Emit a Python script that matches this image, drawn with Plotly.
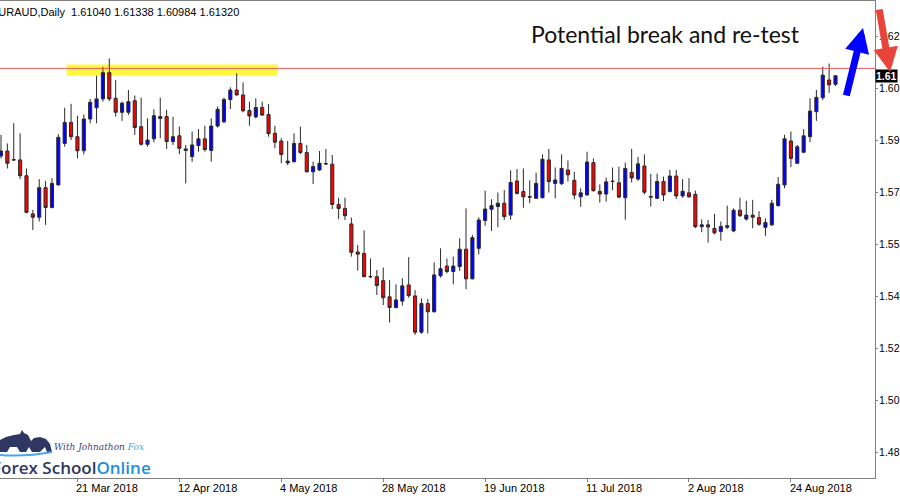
import numpy as np
import pandas as pd
import plotly.graph_objects as go

# ---------------- data (EURAUD daily) ----------------
start_date = "2018-03-05"
opens = [1.5869, 1.5885, 1.5857, 1.5856, 1.5804, 1.5679, 1.5668, 1.5765, 1.5700, 1.5774,
         1.5910, 1.5979, 1.5932, 1.5886, 1.5990, 1.6027, 1.6056, 1.6142, 1.6058, 1.6012,
         1.6012, 1.6050, 1.5965, 1.5907, 1.5925, 1.5992, 1.5998, 1.5916, 1.5935, 1.5892,
         1.5867, 1.5903, 1.5925, 1.5887, 1.5967, 1.5981, 1.6054, 1.6085, 1.6069, 1.6018,
         1.5997, 1.6028, 1.6005, 1.5943, 1.5918, 1.5846, 1.5850, 1.5910, 1.5880, 1.5817,
         1.5823, 1.5844, 1.5842, 1.5710, 1.5697, 1.5646, 1.5554, 1.5549, 1.5474, 1.5473,
         1.5460, 1.5407, 1.5372, 1.5393, 1.5446, 1.5410, 1.5291, 1.5385, 1.5358, 1.5476,
         1.5508, 1.5490, 1.5506, 1.5563, 1.5466, 1.5566, 1.5657, 1.5694, 1.5703, 1.5714,
         1.5675, 1.5787, 1.5752, 1.5736, 1.5730, 1.5732, 1.5856, 1.5779, 1.5778, 1.5823,
         1.5789, 1.5735, 1.5741, 1.5847, 1.5753, 1.5744, 1.5785, 1.5781, 1.5732, 1.5815,
         1.5793, 1.5836, 1.5736, 1.5730, 1.5785, 1.5752, 1.5803, 1.5738, 1.5748, 1.5743,
         1.5637, 1.5643, 1.5631, 1.5621, 1.5635, 1.5623, 1.5691, 1.5662, 1.5675, 1.5667,
         1.5635, 1.5643, 1.5706, 1.5774, 1.5918, 1.5845, 1.5881, 1.5932, 1.6014, 1.6060,
         1.6118, 1.61040]
highs = [1.5938, 1.5910, 1.5976, 1.5943, 1.5828, 1.5692, 1.5793, 1.5787, 1.5796, 1.5940,
         1.6027, 1.6040, 1.6001, 1.6005, 1.6056, 1.6132, 1.6161, 1.6189, 1.6118, 1.6047,
         1.6085, 1.6067, 1.6060, 1.5992, 1.6022, 1.6060, 1.6020, 1.5997, 1.5965, 1.5905,
         1.5949, 1.5957, 1.5968, 1.5992, 1.6031, 1.6060, 1.6094, 1.6140, 1.6110, 1.6047,
         1.6058, 1.6047, 1.6039, 1.5968, 1.5927, 1.5918, 1.5943, 1.5965, 1.5905, 1.5850,
         1.5885, 1.5892, 1.5872, 1.5732, 1.5732, 1.5667, 1.5577, 1.5625, 1.5533, 1.5495,
         1.5503, 1.5462, 1.5448, 1.5468, 1.5537, 1.5429, 1.5402, 1.5400, 1.5520, 1.5566,
         1.5533, 1.5539, 1.5599, 1.5697, 1.5610, 1.5668, 1.5755, 1.5727, 1.5749, 1.5757,
         1.5822, 1.5826, 1.5828, 1.5789, 1.5814, 1.5874, 1.5892, 1.5831, 1.5874, 1.5854,
         1.5817, 1.5763, 1.5883, 1.5861, 1.5776, 1.5798, 1.5831, 1.5834, 1.5847, 1.5892,
         1.5866, 1.5874, 1.5810, 1.5811, 1.5801, 1.5823, 1.5823, 1.5793, 1.5796, 1.5755,
         1.5661, 1.5659, 1.5679, 1.5654, 1.5706, 1.5697, 1.5732, 1.5722, 1.5725, 1.5688,
         1.5664, 1.5725, 1.5800, 1.5938, 1.5949, 1.5905, 1.5957, 1.6058, 1.6085, 1.6162,
         1.6172, 1.61338]
lows = [1.5861, 1.5828, 1.5852, 1.5793, 1.5681, 1.5626, 1.5654, 1.5643, 1.5697, 1.5772,
        1.5899, 1.5921, 1.5861, 1.5874, 1.5976, 1.5976, 1.6047, 1.6049, 1.5998, 1.5984,
        1.6003, 1.5938, 1.5903, 1.5899, 1.5914, 1.5927, 1.5892, 1.5905, 1.5875, 1.5779,
        1.5850, 1.5883, 1.5883, 1.5850, 1.5962, 1.5976, 1.6023, 1.6067, 1.6012, 1.5968,
        1.5992, 1.6001, 1.5932, 1.5894, 1.5845, 1.5839, 1.5848, 1.5875, 1.5815, 1.5777,
        1.5820, 1.5839, 1.5695, 1.5662, 1.5659, 1.5539, 1.5493, 1.5471, 1.5468, 1.5413,
        1.5380, 1.5323, 1.5369, 1.5378, 1.5404, 1.5282, 1.5286, 1.5287, 1.5356, 1.5470,
        1.5484, 1.5448, 1.5492, 1.5432, 1.5464, 1.5546, 1.5640, 1.5623, 1.5635, 1.5659,
        1.5660, 1.5743, 1.5699, 1.5714, 1.5728, 1.5730, 1.5749, 1.5730, 1.5774, 1.5785,
        1.5727, 1.5702, 1.5739, 1.5752, 1.5716, 1.5719, 1.5757, 1.5730, 1.5660, 1.5782,
        1.5787, 1.5743, 1.5703, 1.5728, 1.5721, 1.5750, 1.5728, 1.5732, 1.5732, 1.5632,
        1.5619, 1.5585, 1.5612, 1.5591, 1.5629, 1.5619, 1.5669, 1.5657, 1.5632, 1.5640,
        1.5607, 1.5639, 1.5703, 1.5763, 1.5832, 1.5843, 1.5879, 1.5914, 1.5984, 1.6052,
        1.6076, 1.60984]
closes = [1.5885, 1.5845, 1.5856, 1.5804, 1.5684, 1.5668, 1.5765, 1.5700, 1.5779, 1.5930,
          1.5979, 1.5932, 1.5886, 1.5990, 1.6045, 1.6056, 1.6142, 1.6056, 1.6012, 1.6042,
          1.6047, 1.5962, 1.5907, 1.5921, 1.6001, 1.5998, 1.5916, 1.5932, 1.5894, 1.5887,
          1.5905, 1.5925, 1.5890, 1.5967, 1.6022, 1.6054, 1.6085, 1.6069, 1.6017, 1.6000,
          1.6028, 1.6003, 1.5942, 1.5914, 1.5874, 1.5852, 1.5910, 1.5880, 1.5817, 1.5834,
          1.5845, 1.5843, 1.5710, 1.5697, 1.5673, 1.5553, 1.5547, 1.5473, 1.5473, 1.5444,
          1.5404, 1.5372, 1.5397, 1.5443, 1.5411, 1.5291, 1.5385, 1.5358, 1.5479, 1.5499,
          1.5490, 1.5508, 1.5563, 1.5466, 1.5601, 1.5659, 1.5695, 1.5706, 1.5714, 1.5670,
          1.5782, 1.5746, 1.5735, 1.5734, 1.5779, 1.5858, 1.5785, 1.5790, 1.5828, 1.5807,
          1.5741, 1.5748, 1.5849, 1.5755, 1.5744, 1.5784, 1.5786, 1.5734, 1.5828, 1.5797,
          1.5843, 1.5750, 1.5734, 1.5785, 1.5741, 1.5803, 1.5738, 1.5753, 1.5735, 1.5637,
          1.5643, 1.5636, 1.5617, 1.5638, 1.5640, 1.5691, 1.5673, 1.5675, 1.5668, 1.5645,
          1.5651, 1.5714, 1.5776, 1.5925, 1.5861, 1.5899, 1.5935, 1.6016, 1.6061, 1.6134,
          1.6102, 1.61320]

date_tick_labels = ["27 Feb 2018", "21 Mar 2018", "12 Apr 2018", "4 May 2018", "28 May 2018",
                    "19 Jun 2018", "11 Jul 2018", "2 Aug 2018", "24 Aug 2018"]
date_tick_dates = ["2018-02-27", "2018-03-21", "2018-04-12", "2018-05-04", "2018-05-28",
                   "2018-06-19", "2018-07-11", "2018-08-02", "2018-08-24"]
# price scale ticks; the labels are shown truncated as on the original (narrow) price scale
price_ticks = [1.62620, 1.60915, 1.59210, 1.57505, 1.55800, 1.54095, 1.52390, 1.50685, 1.48980]
price_tick_labels = ["1.62", "1.60", "1.59", "1.57", "1.55", "1.54", "1.52", "1.50", "1.48"]

symbol_text = "EURAUD,Daily  1.61040 1.61338 1.60984 1.61320"
resistance_level = 1.6156
zone_low, zone_high = 1.6132, 1.6169
zone_start, zone_end = "2018-03-20", "2018-05-04"
last_price = 1.61320
last_price_label = "1.61"

# ---------------- figure ----------------
dates = pd.bdate_range(start_date, periods=len(opens))
idx = np.arange(len(opens))
tick_idx = [int(np.busday_count(start_date, d)) for d in date_tick_dates]

W, H = 900, 500
ML, MR, MT, MB = 0, 25, 1, 22
PW, PH = W - ML - MR, H - MT - MB


def px_x(px):
    return (px - ML) / PW


def px_y(py):
    return (H - MB - py) / PH


FONT = "Liberation Sans"

fig = go.Figure()
fig.add_trace(go.Candlestick(
    x=idx, open=opens, high=highs, low=lows, close=closes,
    increasing=dict(line=dict(color="#2a2a2a", width=1), fillcolor="#0000ff"),
    decreasing=dict(line=dict(color="#2a2a2a", width=1), fillcolor="#ff0000"),
    customdata=[d.strftime("%d %b %Y") for d in dates],
    hoverinfo="skip",
    name="EURAUD",
))

z0 = int(np.busday_count(start_date, zone_start)) - 0.7
z1 = int(np.busday_count(start_date, zone_end)) - 0.55
fig.add_shape(type="rect", xref="x", yref="y", x0=z0, x1=z1, y0=zone_low, y1=zone_high,
              fillcolor="rgba(255,245,0,0.75)", line=dict(width=0), layer="below")
fig.add_shape(type="line", xref="paper", yref="y", x0=0, x1=1,
              y0=resistance_level, y1=resistance_level,
              line=dict(color="#f05a5a", width=1))

annotations = []
# header
annotations.append(dict(xref="paper", yref="paper", x=px_x(-11), y=px_y(12),
                        xanchor="left", yanchor="middle", showarrow=False,
                        text=symbol_text, font=dict(family=FONT, size=11, color="#000")))
# date labels (MT4 style, left aligned at tick)
for ti, lab in zip(tick_idx, date_tick_labels):
    annotations.append(dict(xref="x", yref="paper", x=ti, y=px_y(488), xshift=-3,
                            xanchor="left", yanchor="middle", showarrow=False,
                            text=lab, font=dict(family=FONT, size=11, color="#000")))
# current price label
annotations.append(dict(xref="paper", yref="y", x=1.0, y=last_price, xshift=0,
                        xanchor="left", yanchor="middle", showarrow=False,
                        text="<b>%s</b>" % last_price_label, bgcolor="#000000", borderpad=0,
                        font=dict(family=FONT, size=10.5, color="#ffffff")))
# title text
annotations.append(dict(xref="paper", yref="paper", x=px_x(665), y=px_y(34),
                        xanchor="center", yanchor="middle", showarrow=False,
                        text="Potential break and re-test",
                        font=dict(family="Lato", size=23, color="#111")))
# arrows
annotations.append(dict(xref="paper", yref="paper", x=px_x(863), y=px_y(28),
                        axref="pixel", ayref="pixel", ax=-17, ay=69, text="",
                        showarrow=True, arrowhead=2, arrowsize=0.7, arrowwidth=7,
                        arrowcolor="#0000ff"))
annotations.append(dict(xref="paper", yref="paper", x=px_x(890), y=px_y(72),
                        axref="pixel", ayref="pixel", ax=-11, ay=-64, text="",
                        showarrow=True, arrowhead=2, arrowsize=0.7, arrowwidth=7,
                        arrowcolor="#e8443a"))
# logo texts
annotations.append(dict(xref="paper", yref="paper", x=px_x(52), y=px_y(447),
                        xanchor="left", yanchor="middle", showarrow=False,
                        text="With Johnathon <span style='color:#4a9fe0'>Fox</span>",
                        font=dict(family="DejaVu Serif", size=9, color="#3a4580", style="italic")))
annotations.append(dict(xref="paper", yref="paper", x=px_x(-10), y=px_y(467),
                        xanchor="left", yanchor="middle", showarrow=False,
                        text="Forex School<span style='color:#1e8fdc'>Online</span>",
                        font=dict(family="Open Sans", size=17, color="#2e3762", weight=600)))


def pth(points):
    s = "M " + " L ".join("%.5f,%.5f" % (px_x(a), px_y(b)) for a, b in points) + " Z"
    return s


bull = [(0, 452), (0, 440), (6, 437), (14, 435), (20, 434), (22, 430), (24, 433), (28, 435),
        (31, 441), (34, 438), (40, 437), (46, 439), (50, 444), (52, 452), (47, 452), (45, 447),
        (40, 452), (32, 452), (29, 447), (26, 452), (20, 452), (17, 447), (10, 447), (7, 452)]
fig.add_shape(type="path", xref="paper", yref="paper", path=pth(bull),
              fillcolor="#2e3762", line=dict(width=0))
swoosh = "M %.5f,%.5f Q %.5f,%.5f %.5f,%.5f" % (px_x(0), px_y(455), px_x(25), px_y(457),
                                              px_x(52), px_y(452))
fig.add_shape(type="path", xref="paper", yref="paper", path=swoosh,
              line=dict(color="#4aa6e6", width=2))

fig.update_layout(
    width=W, height=H,
    margin=dict(l=ML, r=MR, t=MT, b=MB, autoexpand=False),
    paper_bgcolor="white", plot_bgcolor="white",
    showlegend=False,
    annotations=annotations,
    xaxis=dict(range=[-0.157, 137.2], tickvals=tick_idx, showticklabels=False,
               ticks="outside", ticklen=3, tickcolor="#808080", automargin=False,
               showline=True, mirror=True, linecolor="#808080", linewidth=1,
               showgrid=False, zeroline=False, rangeslider=dict(visible=False),
               fixedrange=True),
    yaxis=dict(side="right", range=[1.4813, 1.6377], tickvals=price_ticks,
               ticktext=price_tick_labels, automargin=False,
               tickfont=dict(family=FONT, size=10.5, color="#000"),
               ticks="outside", ticklen=2, tickcolor="#808080", ticklabelstandoff=-1,
               showline=True, linecolor="#808080", linewidth=1,
               showgrid=False, zeroline=False, fixedrange=True),
)

fig.write_html("out.html", config={"displayModeBar": False},
               post_script="document.body.style.margin='0';document.body.style.overflow='hidden';")
